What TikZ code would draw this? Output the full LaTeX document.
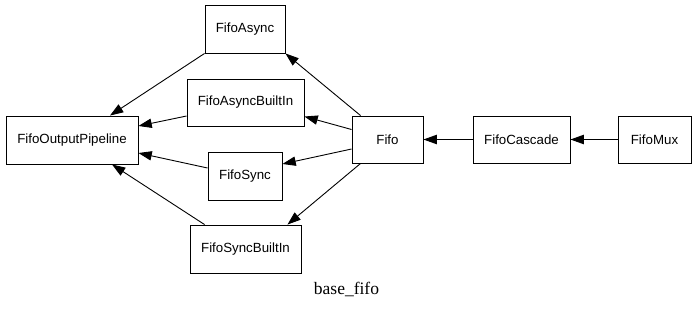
\documentclass[tikz,border=0pt]{standalone}
\usepackage{fontspec}
\setmainfont{Liberation Serif}
\newfontfamily\nodefont{Liberation Sans}
\usetikzlibrary{arrows.meta}
\begin{document}
\begin{tikzpicture}[x=1pt,y=-1pt,
  box/.style={draw,line width=0.9pt,rectangle,inner sep=0pt,
    font=\nodefont\fontsize{13.3}{16}\selectfont},
  dep/.style={line width=0.9pt,-{Triangle[length=13.3pt,width=9.3pt]}}]
\useasboundingbox (0,0) rectangle (696,309);

% classes
\node[box,minimum width=80pt,minimum height=48pt]  (fasync)   at (245,29)     {FifoAsync};
\node[box,minimum width=117pt,minimum height=47pt] (fasyncbi) at (245.5,102.5) {FifoAsyncBuiltIn};
\node[box,minimum width=132pt,minimum height=48pt] (fop)      at (72,140)     {FifoOutputPipeline};
\node[box,minimum width=74pt,minimum height=48pt]  (fsync)    at (245,176)    {FifoSync};
\node[box,minimum width=111pt,minimum height=48pt] (fsyncbi)  at (245.5,249)  {FifoSyncBuiltIn};
\node[box,minimum width=71pt,minimum height=47pt]  (fifo)     at (387.5,139.5) {Fifo};
\node[box,minimum width=97pt,minimum height=47pt]  (fcascade) at (521.5,139.5) {FifoCascade};
\node[box,minimum width=73pt,minimum height=47pt]  (fmux)     at (654.5,139.5) {FifoMux};

% graph title
\node[font=\fontsize{17.5}{20}\selectfont] (title) at (346.5,289) {base\_fifo};

% dependencies
\draw[dep] ([xshift=9pt]fifo.north west) -- (fasync.south east);
\draw[dep] ([yshift=10pt]fifo.west) -- ([yshift=-14pt]fasyncbi.east);
\draw[dep] ([yshift=-9.5pt]fifo.west) -- ([yshift=12pt]fsync.east);
\draw[dep] ([xshift=9pt]fifo.south west) -- ([xshift=-14pt]fsyncbi.north east);

\draw[dep] (fasync.south west) -- ([xshift=38pt]fop.north);
\draw[dep] ([yshift=-13.5pt]fasyncbi.west) -- ([yshift=14pt]fop.east);
\draw[dep] ([yshift=8pt]fsync.west) -- ([yshift=-13pt]fop.east);
\draw[dep] ([xshift=15pt]fsyncbi.north west) -- ([xshift=40pt]fop.south);

\draw[dep] (fcascade.west) -- (fifo.east);
\draw[dep] (fmux.west) -- (fcascade.east);
\end{tikzpicture}
\end{document}
